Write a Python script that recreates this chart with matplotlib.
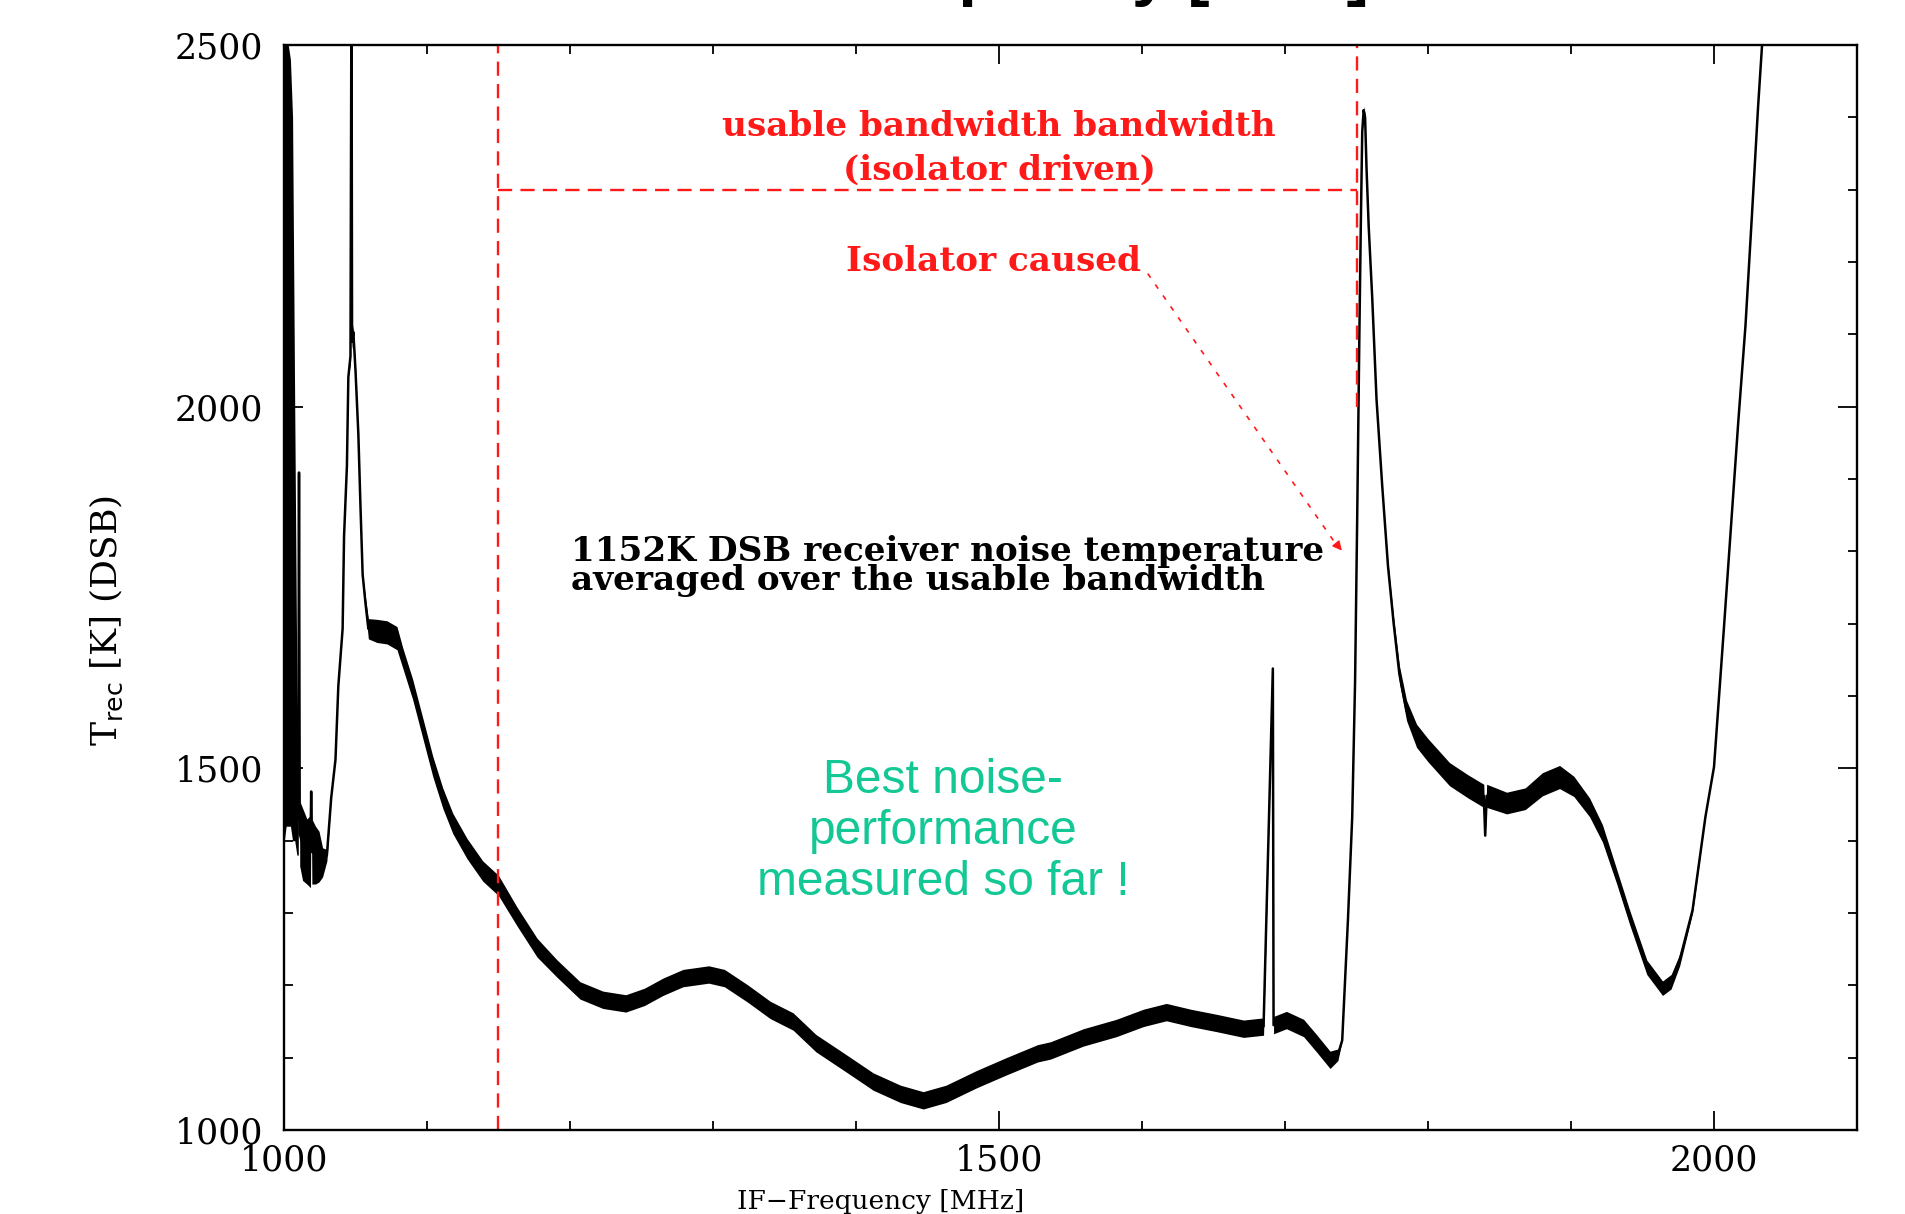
import matplotlib
matplotlib.use('Agg')
import matplotlib.pyplot as plt
import numpy as np

# receiver noise temperature vs IF frequency
# freq [MHz], T_rec [K], and the half-width of the noise band [K]
freq = [1000.2, 1001.5, 1003.0, 1004.5, 1006.0, 1007.5, 1009.0, 1010.0, 1010.5, 1011.0,
        1013.0, 1016.0, 1018.5, 1019.0, 1019.5, 1022.0, 1024.5, 1027.0, 1030.0, 1033.0,
        1036.0, 1038.0, 1041.0, 1042.0, 1044.0, 1045.0, 1046.5, 1047.2, 1047.6, 1048.5,
        1050.0, 1052.0, 1053.5, 1055.0, 1057.0, 1059.0, 1065.0, 1072.0, 1079.0, 1083.0,
        1090.0, 1097.0, 1104.0, 1111.0, 1118.0, 1128.0, 1139.0, 1150.0, 1163.0, 1177.0,
        1191.0, 1207.0, 1223.0, 1239.0, 1252.0, 1265.0, 1279.0, 1297.0, 1308.0, 1324.0,
        1340.0, 1356.0, 1372.0, 1391.0, 1412.0, 1431.0, 1447.0, 1463.0, 1484.0, 1505.0,
        1527.0, 1536.0, 1559.0, 1582.0, 1601.0, 1617.0, 1634.0, 1652.0, 1671.0, 1685.0,
        1691.5, 1692.0, 1701.0, 1713.0, 1722.0, 1731.5, 1737.0, 1740.0, 1742.0, 1744.0,
        1747.0, 1749.0, 1750.5, 1752.0, 1753.0, 1754.0, 1755.0, 1756.0, 1757.0, 1758.5,
        1761.0, 1764.0, 1768.0, 1772.0, 1776.0, 1780.0, 1785.0, 1792.0, 1800.0, 1815.0,
        1828.0, 1839.0, 1840.0, 1841.0, 1855.0, 1868.0, 1880.0, 1892.0, 1902.0, 1913.0,
        1922.0, 1932.0, 1941.0, 1953.0, 1964.0, 1970.0, 1976.0, 1985.0, 1994.0, 2000.0,
        2007.0, 2012.0, 2017.0, 2022.0, 2026.5, 2030.8, 2033.6, 2035.0]
trec = [1950, 1960, 1960, 1950, 1900, 1700, 1500, 1430, 1909, 1410,
        1395, 1385, 1385, 1468, 1385, 1380, 1378, 1370, 1380, 1459,
        1512, 1614, 1693, 1821, 1918, 2041, 2070, 2600, 2090, 2103,
        2050, 1962, 1861, 1768, 1728, 1693, 1690, 1688, 1680, 1653,
        1609, 1556, 1503, 1459, 1424, 1389, 1358, 1338, 1295, 1252,
        1223, 1193, 1180, 1175, 1184, 1198, 1210, 1215, 1210, 1189,
        1166, 1150, 1120, 1095, 1067, 1050, 1041, 1050, 1070, 1088,
        1106, 1110, 1128, 1141, 1155, 1163, 1155, 1148, 1140, 1143,
        1638, 1145, 1152, 1141, 1120, 1097, 1104, 1124, 1207, 1290,
        1433, 1620, 1850, 2100, 2250, 2380, 2410, 2400, 2330, 2250,
        2150, 2010, 1890, 1780, 1700, 1630, 1580, 1545, 1525, 1492,
        1475, 1462, 1407, 1462, 1452, 1458, 1478, 1488, 1475, 1446,
        1410, 1350, 1294, 1225, 1196, 1205, 1235, 1304, 1433, 1502,
        1696, 1838, 1980, 2112, 2264, 2414, 2500, 2560]
band = [550, 540, 540, 530, 500, 300, 120, 50, 0, 45,
        50, 45, 50, 0, 45, 40, 35, 20, 8, 0,
        0, 0, 0, 0, 0, 0, 10, 0, 10, 10,
        5, 0, 0, 0, 8, 14, 16, 16, 16, 14,
        14, 14, 14, 14, 14, 14, 14, 14, 13, 13,
        12, 12, 12, 12, 12, 12, 12, 12, 12, 12,
        12, 12, 12, 12, 12, 12, 12, 12, 12, 12,
        12, 12, 12, 12, 12, 12, 12, 12, 12, 12,
        0, 12, 12, 12, 12, 12, 8, 0, 0, 0,
        0, 0, 0, 0, 0, 0, 5, 5, 0, 0,
        0, 0, 0, 4, 8, 12, 14, 16, 16, 16,
        16, 16, 0, 16, 15, 15, 16, 16, 14, 13,
        12, 10, 10, 10, 10, 10, 8, 4, 0, 0,
        0, 0, 0, 0, 0, 0, 0, 0]

# usable band (isolator driven)
band_lo = 1150
band_hi = 1750
band_top = 2300

serif = 'DejaVu Serif'
red = '#ff1a1a'

fig = plt.figure(figsize=(19.06, 12.14), dpi=100)
ax = fig.add_axes([0.149, 0.0692, 0.8253, 0.8937])

f = np.array(freq)
t = np.array(trec)
b = np.array(band)
ax.fill_between(f, t - b, t + b, color='black', linewidth=0)
ax.plot(f, t, color='black', linewidth=1.8)

# red dashed bandwidth markers
ax.plot([band_lo, band_lo], [1000, 2500], color=red, lw=1.7, dashes=(6, 3.5))
ax.plot([band_hi, band_hi], [2000, 2500], color=red, lw=1.7, dashes=(6, 3.5))
ax.plot([band_lo, band_hi], [band_top, band_top], color=red, lw=1.7, dashes=(6, 3.5))

txt = dict(fontsize=24.7, family=serif, weight='bold')
ax.text(1500, 2388, 'usable bandwidth bandwidth', color=red, ha='center', va='center', **txt)
ax.text(1500, 2327, '(isolator driven)', color=red, ha='center', va='center', **txt)
ax.text(1496, 2201, 'Isolator caused', color=red, ha='center', va='center', **txt)
# dashed arrow towards the peak
ax.plot([1604, 1737], [2184, 1806], color=red, lw=1.2, dashes=(3, 5))
ax.annotate('', xy=(1741, 1798), xytext=(1736, 1810),
            arrowprops=dict(arrowstyle='-|>', color=red, lw=1, mutation_scale=14))

ax.text(1200.7, 1780, '1152K DSB receiver noise temperature\naveraged over the usable bandwidth',
        ha='left', va='center', linespacing=0.85, **txt)

ax.text(1461, 1413, 'Best noise-\nperformance\nmeasured so far !', color='#14c896',
        fontsize=34.5, family='Liberation Sans', ha='center', va='center',
        linespacing=1.17)

ax.set_xlim(1000, 2100)
ax.set_ylim(1000, 2500)
ax.set_xticks([1000, 1500, 2000])
ax.set_xticks(np.arange(1000, 2101, 100), minor=True)
ax.set_yticks([1000, 1500, 2000, 2500])
ax.set_yticks(np.arange(1000, 2501, 100), minor=True)
ax.tick_params(which='both', direction='in', top=True, right=True, width=1.3)
ax.tick_params(which='major', length=14)
ax.tick_params(which='minor', length=6.5)
ax.tick_params(axis='x', pad=10, labelsize=25)
ax.tick_params(axis='y', pad=15, labelsize=25)
for lab in ax.get_xticklabels() + ax.get_yticklabels():
    lab.set_family(serif)
for s in ax.spines.values():
    s.set_linewidth(1.7)

fig.text(0.056, 0.489, r'T$_{\rm rec}$ [K] (DSB)', rotation=90, fontsize=26,
         family=serif, ha='center', va='center')
fig.text(0.462, 0.0, 'IF\u2212Frequency [MHz]', fontsize=19, family=serif,
         ha='center', va='bottom')
# slide title, mostly above the visible area (as on the original slide)
fig.text(0.718, 1.006, 'Receiver noise vs. IF-frequency [MHz]', fontsize=48,
         family='Liberation Sans', weight='bold', ha='right', va='baseline')

fig.savefig('out.png', dpi=100, facecolor='white')
